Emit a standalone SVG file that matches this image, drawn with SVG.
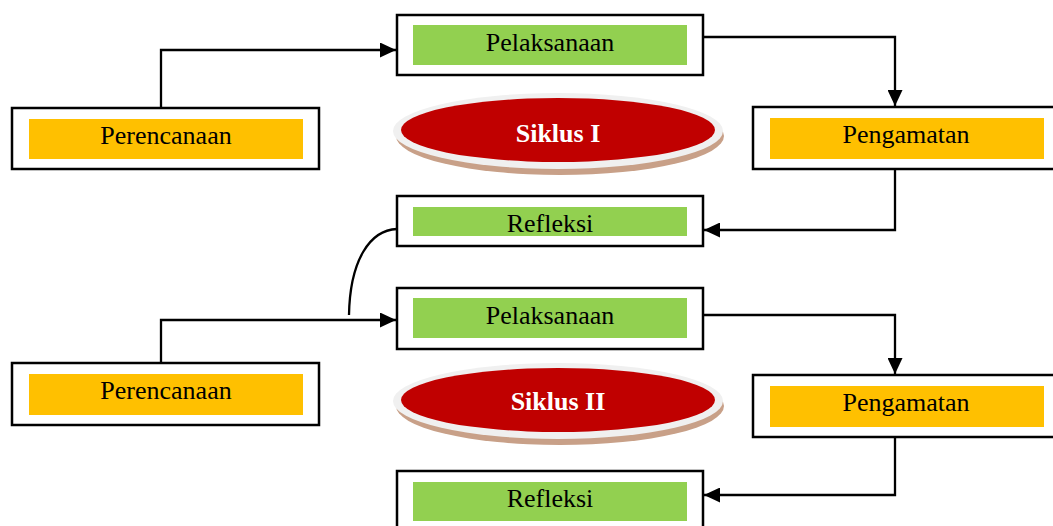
<svg xmlns="http://www.w3.org/2000/svg" width="1053" height="526" viewBox="0 0 1053 526">
<defs>
<style>
.box{fill:#fff;stroke:#000;stroke-width:2.5}
.orange{fill:#ffc000}
.green{fill:#92d050}
.lbl{font-family:"Liberation Serif","Times New Roman",serif;font-size:26px;fill:#000;text-anchor:middle}
.cyc{font-family:"Liberation Serif","Times New Roman",serif;font-size:26px;font-weight:bold;fill:#fff;text-anchor:middle}
.conn{fill:none;stroke:#000;stroke-width:2.3}
.shadow{fill:#c8a088}
.ring{fill:#f0f0f0}
.red{fill:#c00000}
</style>
<marker id="arr" viewBox="0 0 16 15" refX="16" refY="7.5" markerWidth="16" markerHeight="15" markerUnits="userSpaceOnUse" orient="auto">
<path d="M0,0 L16,7.5 L0,15 z" fill="#000"/>
</marker>
</defs>
<rect width="1053" height="526" fill="#fff"/>

<g id="connectors">
<path class="conn" d="M161,108 V50 H396" marker-end="url(#arr)"/>
<path class="conn" d="M703,37 H895 V106" marker-end="url(#arr)"/>
<path class="conn" d="M895,169 V230 H704" marker-end="url(#arr)"/>
<path class="conn" d="M397,229 C370,230 350,260 349,315"/>
<path class="conn" d="M161,363 V320 H396" marker-end="url(#arr)"/>
<path class="conn" d="M703,315 H895 V374" marker-end="url(#arr)"/>
<path class="conn" d="M895,437 V495 H704" marker-end="url(#arr)"/>
</g>

<g id="perencanaan1">
<rect class="box" x="12" y="108" width="307" height="61"/>
<rect class="orange" x="29" y="119" width="274" height="40"/>
<text class="lbl" x="166" y="144">Perencanaan</text>
</g>

<g id="pelaksanaan1">
<rect class="box" x="397" y="15" width="306" height="60"/>
<rect class="green" x="413" y="25" width="274" height="40"/>
<text class="lbl" x="550" y="51">Pelaksanaan</text>
</g>

<g id="siklus1">
<ellipse class="shadow" cx="560" cy="136" rx="164" ry="39"/>
<ellipse class="ring" cx="558" cy="131" rx="165" ry="38"/>
<ellipse class="red" cx="558" cy="130" rx="157" ry="32"/>
<text class="cyc" x="558" y="142">Siklus I</text>
</g>

<g id="pengamatan1">
<rect class="box" x="753" y="107" width="310" height="62"/>
<rect class="orange" x="770" y="118" width="274" height="41"/>
<text class="lbl" x="906" y="143">Pengamatan</text>
</g>

<g id="refleksi1">
<rect class="box" x="397" y="196" width="306" height="50"/>
<rect class="green" x="413" y="207" width="274" height="29"/>
<text class="lbl" x="550" y="232">Refleksi</text>
</g>

<g id="perencanaan2">
<rect class="box" x="12" y="363" width="307" height="62"/>
<rect class="orange" x="29" y="374" width="274" height="41"/>
<text class="lbl" x="166" y="399">Perencanaan</text>
</g>

<g id="pelaksanaan2">
<rect class="box" x="397" y="288" width="306" height="61"/>
<rect class="green" x="413" y="298" width="274" height="40"/>
<text class="lbl" x="550" y="324">Pelaksanaan</text>
</g>

<g id="siklus2">
<ellipse class="shadow" cx="560" cy="406" rx="164" ry="39"/>
<ellipse class="ring" cx="558" cy="401" rx="165" ry="38"/>
<ellipse class="red" cx="558" cy="400" rx="157" ry="32"/>
<text class="cyc" x="558" y="410">Siklus II</text>
</g>

<g id="pengamatan2">
<rect class="box" x="753" y="375" width="310" height="62"/>
<rect class="orange" x="770" y="386" width="274" height="41"/>
<text class="lbl" x="906" y="411">Pengamatan</text>
</g>

<g id="refleksi2">
<rect class="box" x="397" y="471" width="306" height="70"/>
<rect class="green" x="413" y="482" width="274" height="39"/>
<text class="lbl" x="550" y="507">Refleksi</text>
</g>
</svg>
